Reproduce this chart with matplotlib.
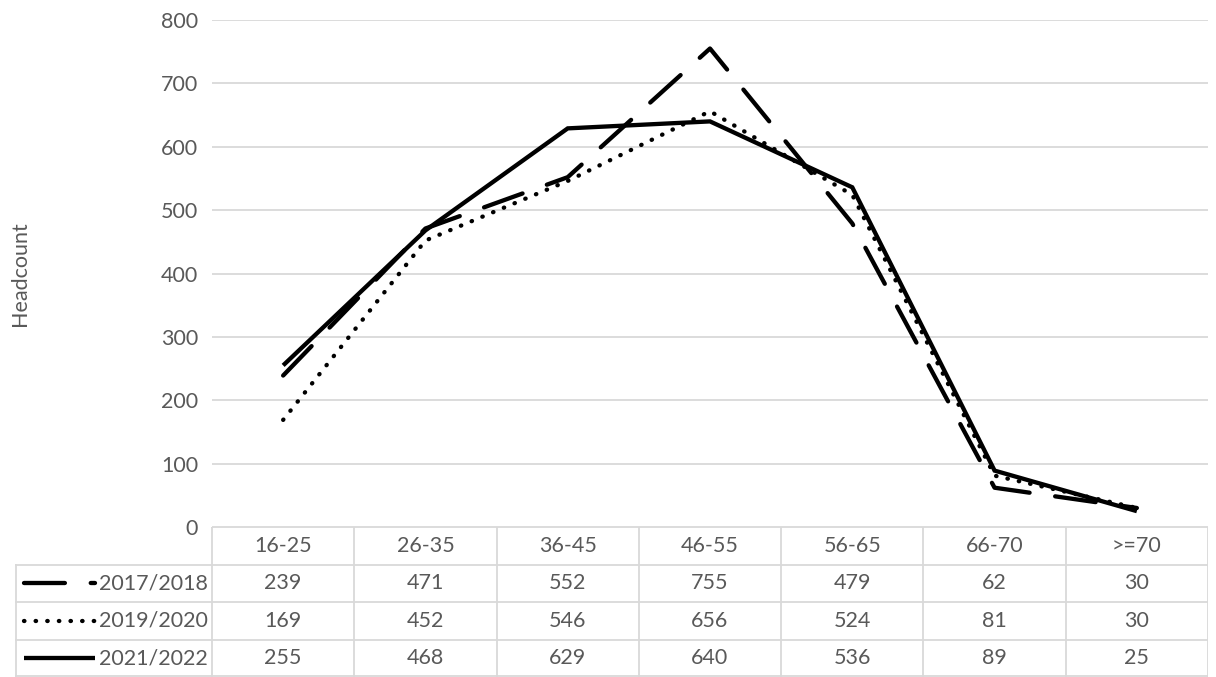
import matplotlib.pyplot as plt
from matplotlib.lines import Line2D

# === Data ===
categories = ["16-25", "26-35", "36-45", "46-55", "56-65", "66-70", ">=70"]
series_names = ["2017/2018", "2019/2020", "2021/2022"]
v2017 = [239, 471, 552, 755, 479, 62, 30]
v2019 = [169, 452, 546, 656, 524, 81, 30]
v2021 = [255, 468, 629, 640, 536, 89, 25]
yticks = [0, 100, 200, 300, 400, 500, 600, 700, 800]

plt.rcParams['font.family'] = ['Lato', 'DejaVu Sans']
text_col = "#595959"
grid_col = "#d9d9d9"
fs = 15.5
lwd = 3.1
W, H = 1216, 677

fig = plt.figure(figsize=(W / 100, H / 100), dpi=100)

# === Plot area (pixel layout from reference) ===
x0, x1, ytop, ybase = 212, 1208, 20, 527
ax = fig.add_axes([x0 / W, (H - ybase) / H, (x1 - x0) / W, (ybase - ytop) / H])
ax.set_xlim(-0.5, len(categories) - 0.5)
ax.set_ylim(0, 800)
ax.set_yticks(yticks)
ax.set_yticklabels([str(t) for t in yticks], color=text_col, fontsize=fs)
ax.tick_params(axis='y', length=0, pad=10)
ax.set_xticks([])
for s in ax.spines.values():
    s.set_visible(False)
ax.grid(axis='y', color=grid_col, linewidth=1.3)
ax.set_axisbelow(True)
ax.set_ylabel("Headcount", color=text_col, fontsize=fs, labelpad=0)
ax.yaxis.set_label_coords(-(x0 - 30) / (x1 - x0), 0.5)

xs = range(len(categories))
styles = [
    dict(linestyle=(0, (9.5, 6.0)), dash_capstyle='round'),
    dict(linestyle=(0, (0.1, 2.6)), dash_capstyle='round'),
    dict(linestyle='-', solid_capstyle='butt'),
]
values = [v2017, v2019, v2021]
for vals, st in zip(values, styles):
    ax.plot(xs, vals, color='black', linewidth=lwd, solid_joinstyle='miter', **st)

# === Data table ===
legw = (x0 - 15) / ((x1 - x0) / len(categories))
tab = fig.add_axes([15 / W, 0, (x1 - 15) / W, (H - ybase) / H])
tab.set_xlim(-0.5 - legw, len(categories) - 0.5)
tab.set_ylim(4, 0)
tab.axis('off')
lw = 1.3
tab.plot([-0.5, len(categories) - 0.5], [0, 0], color=grid_col, lw=lw)
for r in [1, 2, 3, 3.98]:
    tab.plot([-0.5 - legw, len(categories) - 0.5], [r, r], color=grid_col, lw=lw)
for c in range(len(categories) + 1):
    tab.plot([c - 0.5, c - 0.5], [0, 4], color=grid_col, lw=lw)
tab.plot([-0.5 - legw + 0.005, -0.5 - legw + 0.005], [1, 4], color=grid_col, lw=lw)

for i, cat in enumerate(categories):
    tab.text(i, 0.5, cat, ha='center', va='center', color=text_col, fontsize=fs)
for r, vals in enumerate(values):
    for i, v in enumerate(vals):
        tab.text(i, r + 1.5, str(v), ha='center', va='center', color=text_col, fontsize=fs)
    tab.text(-0.5 - 0.03, r + 1.5, series_names[r], ha='right', va='center',
             color=text_col, fontsize=fs)
    tab.add_line(Line2D([-0.5 - legw + 0.06, -0.5 - legw + 0.56],
                        [r + 1.5, r + 1.5], color='black', linewidth=lwd, **styles[r]))

fig.savefig("out.png", dpi=100)
